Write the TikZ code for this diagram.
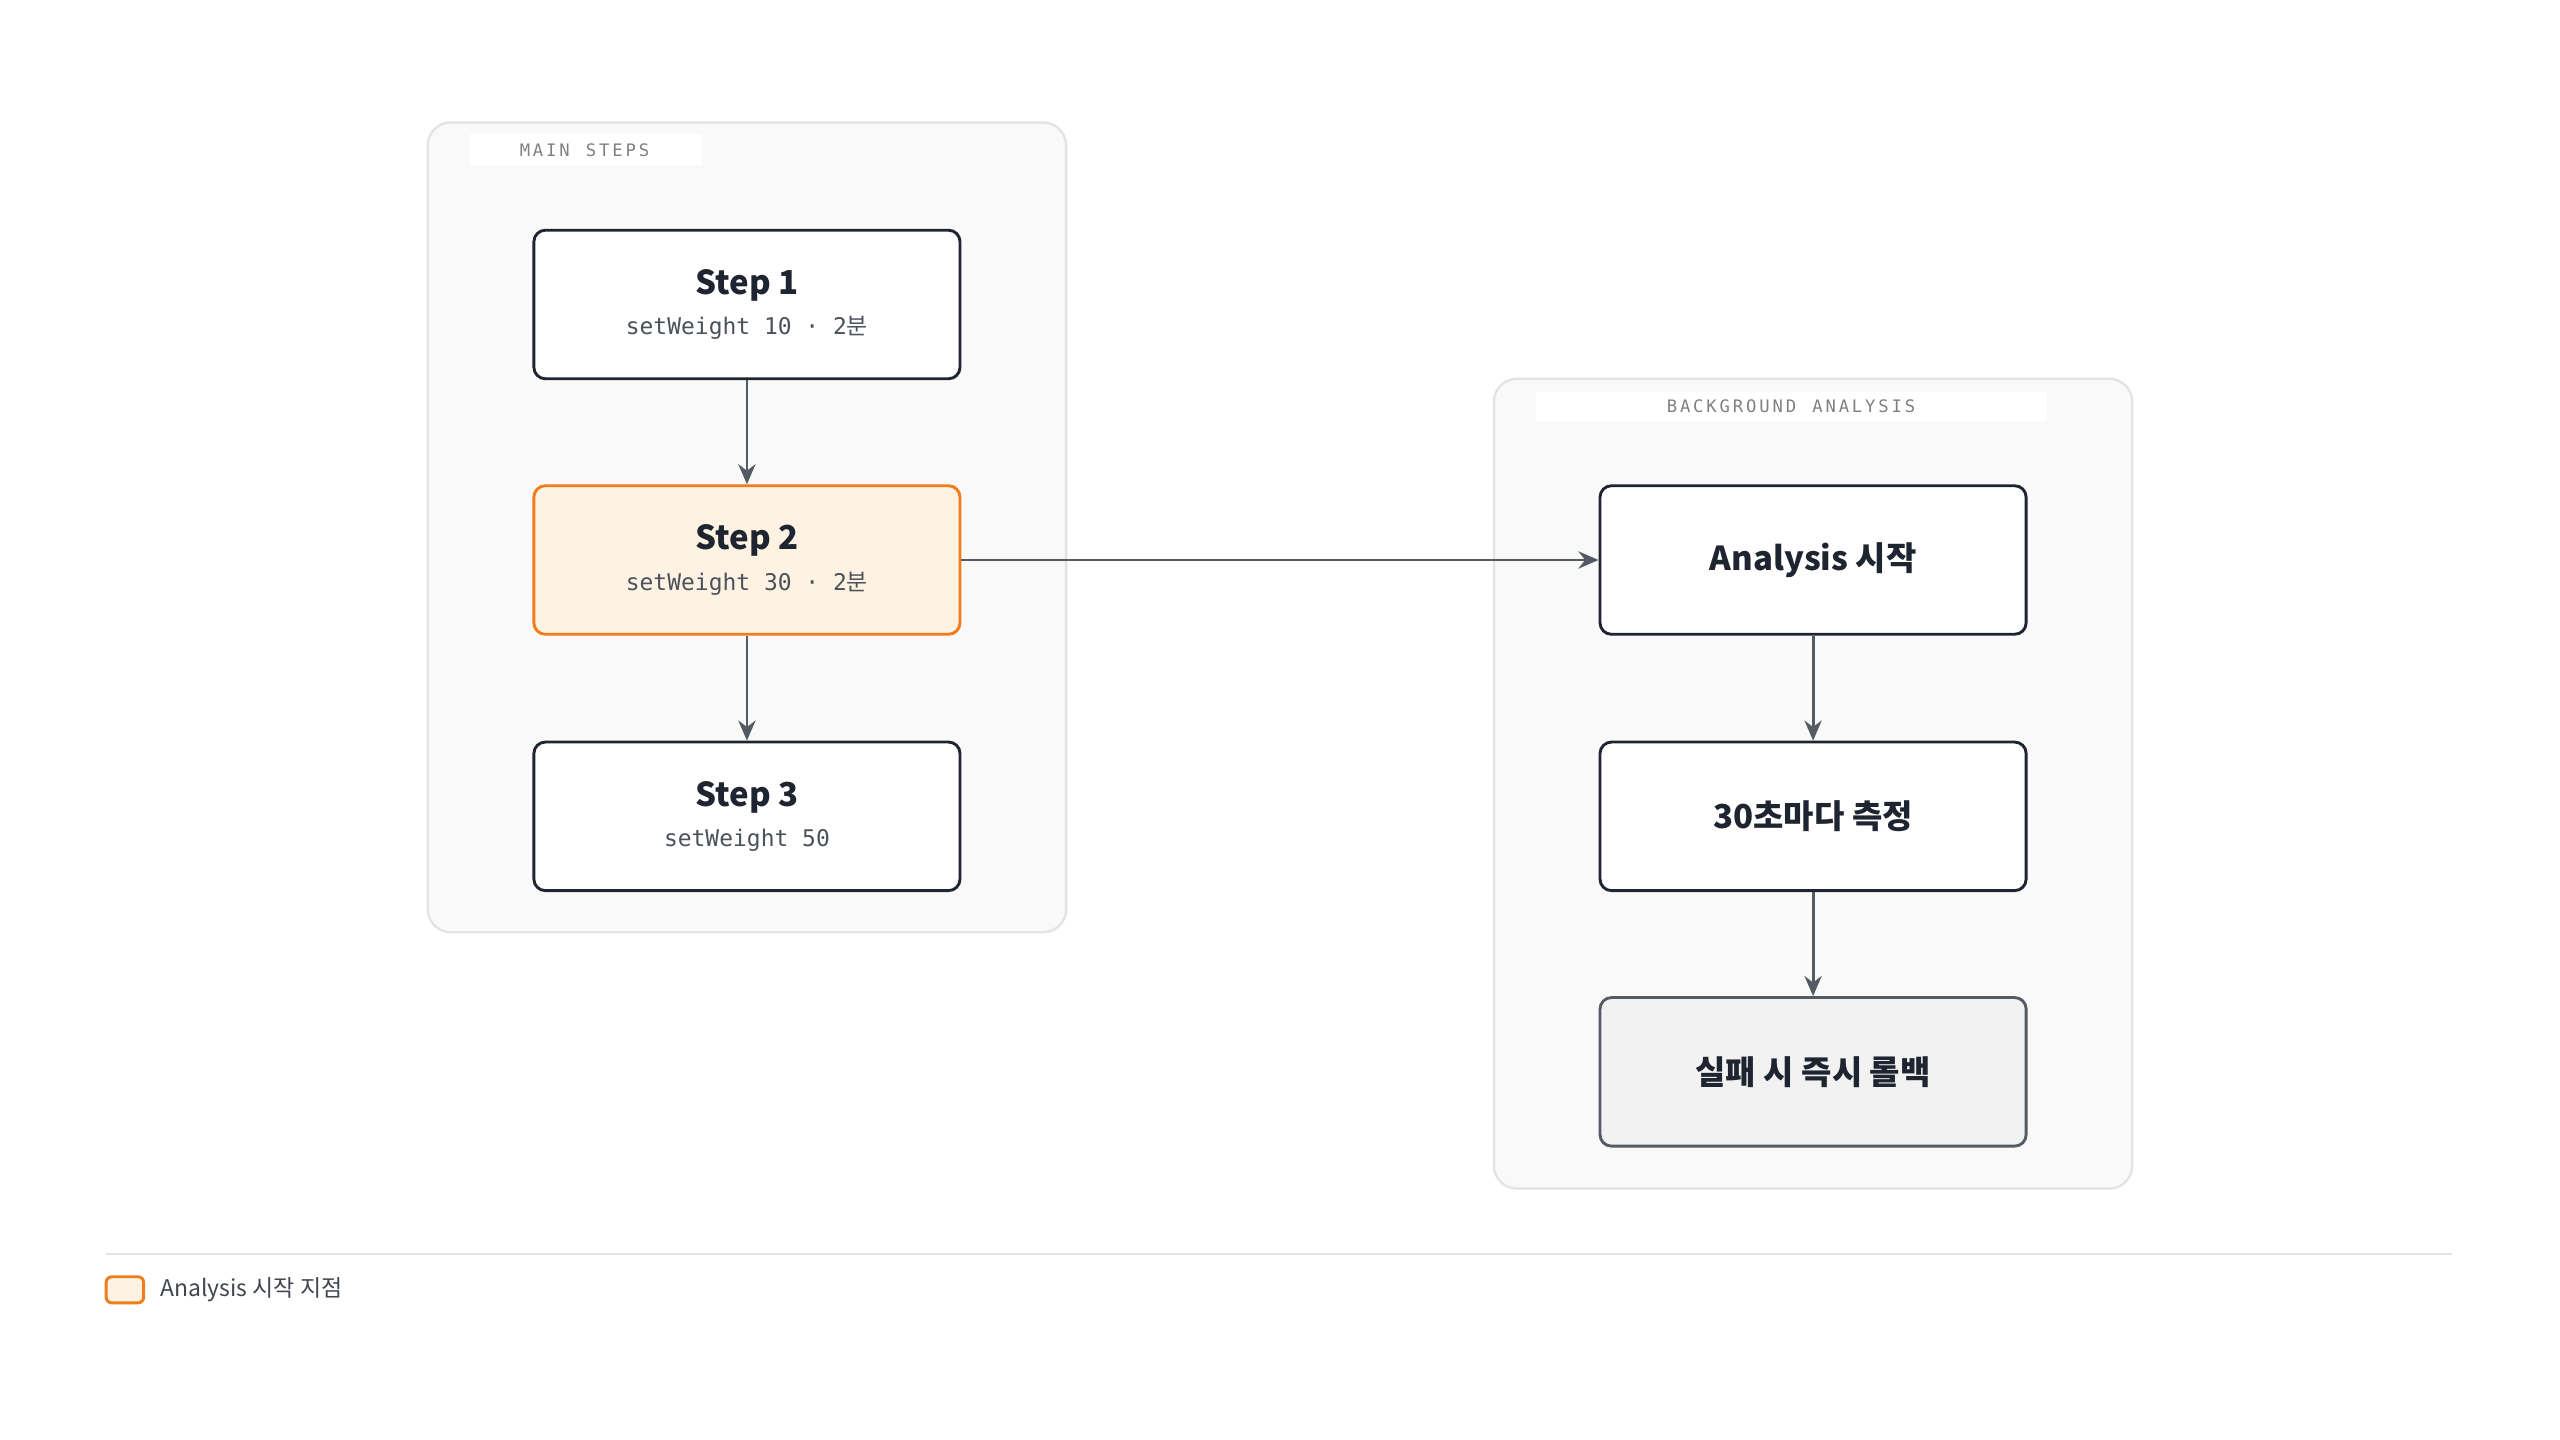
\documentclass[tikz,border=0pt]{standalone}
\usepackage{fontspec}
\setmainfont{Noto Sans CJK KR}
\setmonofont{DejaVu Sans Mono}
\newfontfamily\cjk{Noto Sans CJK KR}
\usetikzlibrary{arrows.meta}
\definecolor{ink}{HTML}{1F2530}
\definecolor{arr}{HTML}{555B65}
\definecolor{grpfill}{HTML}{F9F9F9}
\definecolor{grpline}{HTML}{E3E3E3}
\definecolor{orng}{HTML}{F07C1A}
\definecolor{orfill}{HTML}{FEF3E2}
\newcommand\myttl{\fontsize{11.5}{13}\selectfont\bfseries}
\newcommand\mysub{\fontsize{8}{10}\ttfamily\color{ink!80}}
\begin{document}
\begin{tikzpicture}[x=0.02cm,y=-0.02cm,
 grp/.style={draw=grpline,fill=grpfill,rounded corners=8pt,line width=0.8pt},
 box/.style={draw=ink,fill=white,rounded corners=4pt,line width=1pt,minimum width=261*0.02cm,minimum height=91*0.02cm,align=center,text=ink},
 ttl/.style={font=\myttl},
 glab/.style={font=\fontsize{6}{7}\ttfamily,text=gray,fill=white,inner sep=0pt},
 conn/.style={draw=arr,line width=1pt,-{Stealth[length=7pt,width=6pt]}}]
\useasboundingbox (0,0) rectangle (1568,882);
\fill[white] (0,0) rectangle (1568,882);
\draw[grp] (262,75) rectangle (653,571);
\fill[white] (288,82) rectangle (430,101);
\node[glab] (lm) at (358,92) {M\,A\,I\,N\, \,S\,T\,E\,P\,S};
\draw[grp] (915,232) rectangle (1306,728);
\fill[white] (941,240) rectangle (1254,258);
\node[glab] (lb) at (1097,249) {B\,A\,C\,K\,G\,R\,O\,U\,N\,D\, \,A\,N\,A\,L\,Y\,S\,I\,S};
\node[box] (s1) at (457.5,186.5) {{\myttl Step 1}\\[2pt]{\mysub setWeight 10 · 2{\cjk 분}}};
\node[box,draw=orng,fill=orfill] (s2) at (457.5,343) {{\myttl Step 2}\\[2pt]{\mysub setWeight 30 · 2{\cjk 분}}};
\node[box] (s3) at (457.5,500) {{\myttl Step 3}\\[2pt]{\mysub setWeight 50}};
\node[box,ttl] (a1) at (1110.5,343) {Analysis 시작};
\node[box,ttl] (a2) at (1110.5,500) {30초마다 측정};
\node[box,ttl,fill=black!5,draw=arr] (a3) at (1110.5,656.5) {실패 시 즉시 롤백};
\draw[conn] (s1) -- (s2);
\draw[conn] (s2) -- (s3);
\draw[conn] (s2) -- (a1);
\draw[conn] (a1) -- (a2);
\draw[conn] (a2) -- (a3);
\draw[grpline,line width=0.8pt] (65,768) -- (1502,768);
\node[draw=orng,fill=orfill,rounded corners=2pt,line width=1pt,minimum width=23*0.02cm,minimum height=16*0.02cm,inner sep=0pt] (lg) at (76.5,790) {};
\node[anchor=west,font=\fontsize{8}{10}\selectfont,text=ink!85,inner sep=0pt] (lt) at (98,790) {Analysis 시작 지점};
\end{tikzpicture}
\end{document}
